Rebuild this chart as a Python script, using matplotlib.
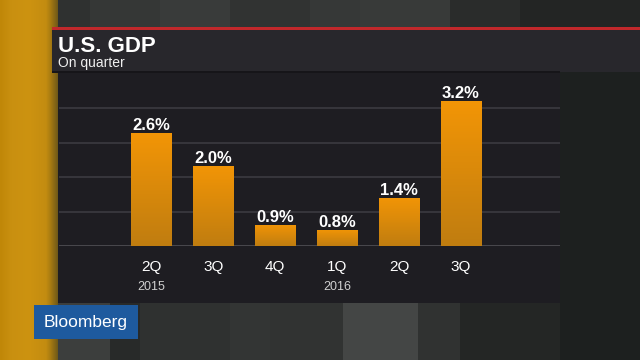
import numpy as np
import matplotlib
matplotlib.use("Agg")
import matplotlib.pyplot as plt
from matplotlib.patches import Rectangle
from matplotlib.colors import LinearSegmentedColormap
import matplotlib.transforms as mtransforms

plt.rcParams["font.family"] = ["Liberation Sans", "DejaVu Sans"]

# data
quarters = ["2Q", "3Q", "4Q", "1Q", "2Q", "3Q"]
years = ["2015", "", "", "2016", "", ""]
growth = [2.6, 2.0, 0.9, 0.8, 1.4, 3.2]
grid_values = np.linspace(0.5, 3.07, 5)

W, H = 640, 360
fig = plt.figure(figsize=(W / 100, H / 100), dpi=100)

# background layer in pixel coordinates (y grows downward)
bg = fig.add_axes([0, 0, 1, 1], zorder=0)
bg.set_xlim(0, W)
bg.set_ylim(H, 0)
bg.axis("off")


def rect(x0, y0, x1, y1, color, z=1):
    bg.add_patch(Rectangle((x0, y0), x1 - x0, y1 - y0, facecolor=color, edgecolor="none", zorder=z))


rect(0, 0, W, H, "#2c2e2d", 0)

# studio backdrop bands above the header and below the chart
top_bands = [(52, 90, "#2f3130"), (90, 160, "#353736"), (160, 230, "#393b3a"),
             (230, 310, "#313332"), (310, 360, "#363837"), (360, 450, "#383a39"),
             (450, 520, "#2a2c2b"), (520, 640, "#232524")]
for x0, x1, c in top_bands:
    rect(x0, 0, x1, 28, c)
bottom_bands = [(52, 110, "#3c3e3d"), (110, 140, "#282a29"), (140, 230, "#2f3130"),
                (230, 270, "#333534"), (270, 343, "#313332"), (343, 418, "#444645"),
                (418, 460, "#303231"), (460, 560, "#242625")]
for x0, x1, c in bottom_bands:
    rect(x0, 303, x1, H, c)
rect(560, 72, W, H, "#1d201f")

# gold strip on the left
gold = LinearSegmentedColormap.from_list(
    "gold", [(0, "#c08708"), (0.2, "#c99010"), (0.5, "#cd9311"), (0.8, "#c38c10"),
             (0.88, "#a67a12"), (1.0, "#6f5818")])
bg.imshow(np.linspace(0, 1, 128)[None, :], extent=(0, 58, H, 0), cmap=gold,
          aspect="auto", zorder=1)

# header and chart panels
rect(52, 27, W, 30, "#c1282b", 2)
rect(52, 30, W, 72, "#28272c", 2)
rect(52, 71, 560, 73, "#161519", 2)
rect(58, 73, 560, 303, "#1e1d22", 2)

bg.text(58, 52, "U.S. GDP", fontsize=16, fontweight="bold", color="white",
        va="baseline", ha="left", zorder=5)
bg.text(58, 67, "On quarter", fontsize=10, color="#f0f0f0",
        va="baseline", ha="left", zorder=5)

# Bloomberg tag
rect(34, 305, 138, 339, "#1e5a9e", 6)
bg.text(86, 322, "Bloomberg", fontsize=12.5, color="white", ha="center",
        va="center", zorder=7)

# chart axes
ax = fig.add_axes([59 / W, (H - 246) / H, 501 / W, 174 / H], zorder=2)
ax.patch.set_alpha(0)
for s in ax.spines.values():
    s.set_visible(False)

x = np.arange(len(growth))
ax.set_yticks(grid_values[1:])
ax.yaxis.grid(True, color="#3c3b41", linewidth=1.2)
ax.set_axisbelow(True)
ax.tick_params(axis="y", left=False, labelleft=False)
ax.axhline(grid_values[0], color="#56555b", linewidth=1.8, zorder=1)

bar_cmap = LinearSegmentedColormap.from_list("bar", ["#c07d10", "#f29506"])
bars = ax.bar(x, growth, width=0.66, bottom=0, color="#e8900a", zorder=2)
for b in bars:
    bx = b.get_x()
    img = ax.imshow(np.linspace(0, 1, 64)[:, None], cmap=bar_cmap, origin="lower",
                    extent=(bx, bx + b.get_width(), 0.5, b.get_height()),
                    aspect="auto", zorder=3)
    img.set_clip_path(b)
ax.set_xlim(-1.494, 6.6)
ax.set_ylim(0.5, 0.5 + 174 / 53.6)

for xi, v in zip(x, growth):
    ax.annotate(f"{v:.1f}%", (xi, v), xytext=(0, 2.2), textcoords="offset points",
                ha="center", va="baseline", fontsize=12, fontweight="bold",
                color="white", zorder=4)

ax.set_xticks(x)
ax.set_xticklabels(quarters, fontsize=11, color="white")
ax.tick_params(axis="x", length=0, pad=10)

trans = mtransforms.blended_transform_factory(ax.transData, bg.transData)
for xi, yr in zip(x, years):
    if yr:
        ax.text(xi, 290, yr, transform=trans, ha="center", va="baseline",
                fontsize=9, color="#d0d0d0")

fig.savefig("out.png", dpi=100)
